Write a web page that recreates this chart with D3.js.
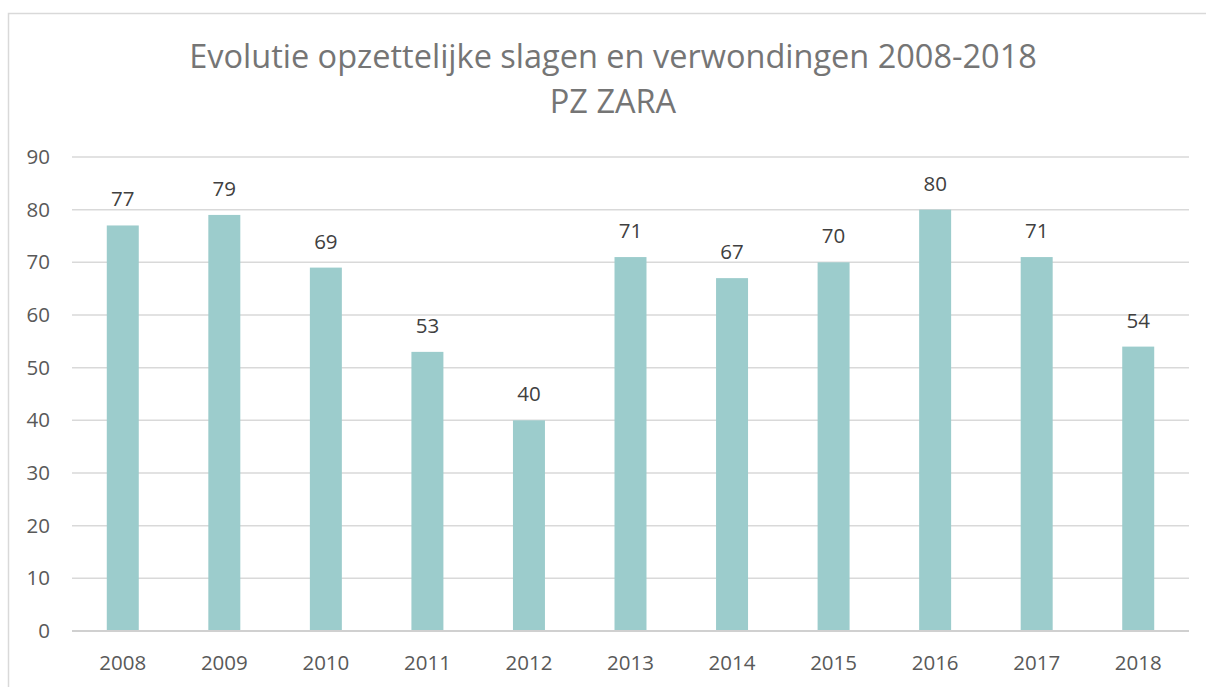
<!DOCTYPE html>
<html><head><meta charset="utf-8">
<script src="https://cdn.jsdelivr.net/npm/d3@7"></script>
<style>body{margin:0;background:#fff;} svg{display:block;}</style>
</head><body>
<svg id="c" width="1206" height="687"></svg>
<script>
const years = ["2008","2009","2010","2011","2012","2013","2014","2015","2016","2017","2018"];
const values = [77,79,69,53,40,71,67,70,80,71,54];
const yTicks = [0,10,20,30,40,50,60,70,80,90];
const titleLines = ["Evolutie opzettelijke slagen en verwondingen 2008-2018","PZ ZARA"];

(function(){
const svg = d3.select("#c");
const font = "'Open Sans', sans-serif";
const lfs = 20.5;
svg.append("rect").attr("x",8.5).attr("y",13.5).attr("width",1220).attr("height",700)
  .attr("fill","#fff").attr("stroke","#d9d9d9").attr("stroke-width",1.5);

const pl = 72, pr = 1189, pt = 157, pb = 631;
const x = d3.scaleBand().domain(years).range([pl,pr]).paddingInner(0.685).paddingOuter(0.3425);
const y = d3.scaleLinear().domain([0,90]).range([pb,pt]);

// grid
svg.append("g").selectAll("line").data(yTicks).join("line")
  .attr("x1",pl).attr("x2",pr).attr("y1",d=>y(d)).attr("y2",d=>y(d))
  .attr("stroke",d=>d===0?"#d0d0d0":"#d9d9d9").attr("stroke-width",d=>d===0?2:1.5);

// y axis labels
const yAxis = d3.axisLeft(y).tickValues(yTicks).tickSize(0).tickPadding(22);
const gy = svg.append("g").attr("transform",`translate(${pl},0)`).call(yAxis);
gy.select(".domain").remove();
gy.selectAll("text").attr("font-family",font).attr("font-size",lfs).attr("fill","#595959");

// x axis labels
const xAxis = d3.axisBottom(x).tickSize(0).tickPadding(24);
const gx = svg.append("g").attr("transform",`translate(0,${pb})`).call(xAxis);
gx.select(".domain").remove();
gx.selectAll("text").attr("font-family",font).attr("font-size",lfs).attr("fill","#595959");

// bars
svg.append("g").selectAll("rect").data(values).join("rect")
  .attr("x",(d,i)=>x(years[i])).attr("width",x.bandwidth())
  .attr("y",d=>y(d)).attr("height",d=>y(0)-y(d)-1).attr("fill","#9ccccc");

// data labels
svg.append("g").selectAll("text").data(values).join("text")
  .attr("x",(d,i)=>x(years[i])+x.bandwidth()/2).attr("y",d=>y(d)-19)
  .attr("text-anchor","middle").attr("font-family",font).attr("font-size",lfs).attr("fill","#404040")
  .text(d=>d);

// title
const t1 = svg.append("text").attr("x",613).attr("y",68).attr("text-anchor","middle")
  .attr("font-family",font).attr("font-size",32).attr("fill","#757575").text(titleLines[0]);
const w = t1.node().getComputedTextLength();
const fs = 32*848/w;
t1.attr("font-size",fs);
svg.append("text").attr("x",613).attr("y",113).attr("text-anchor","middle")
  .attr("font-family",font).attr("font-size",fs).attr("fill","#757575").text(titleLines[1]);
})();
</script>
</body></html>
